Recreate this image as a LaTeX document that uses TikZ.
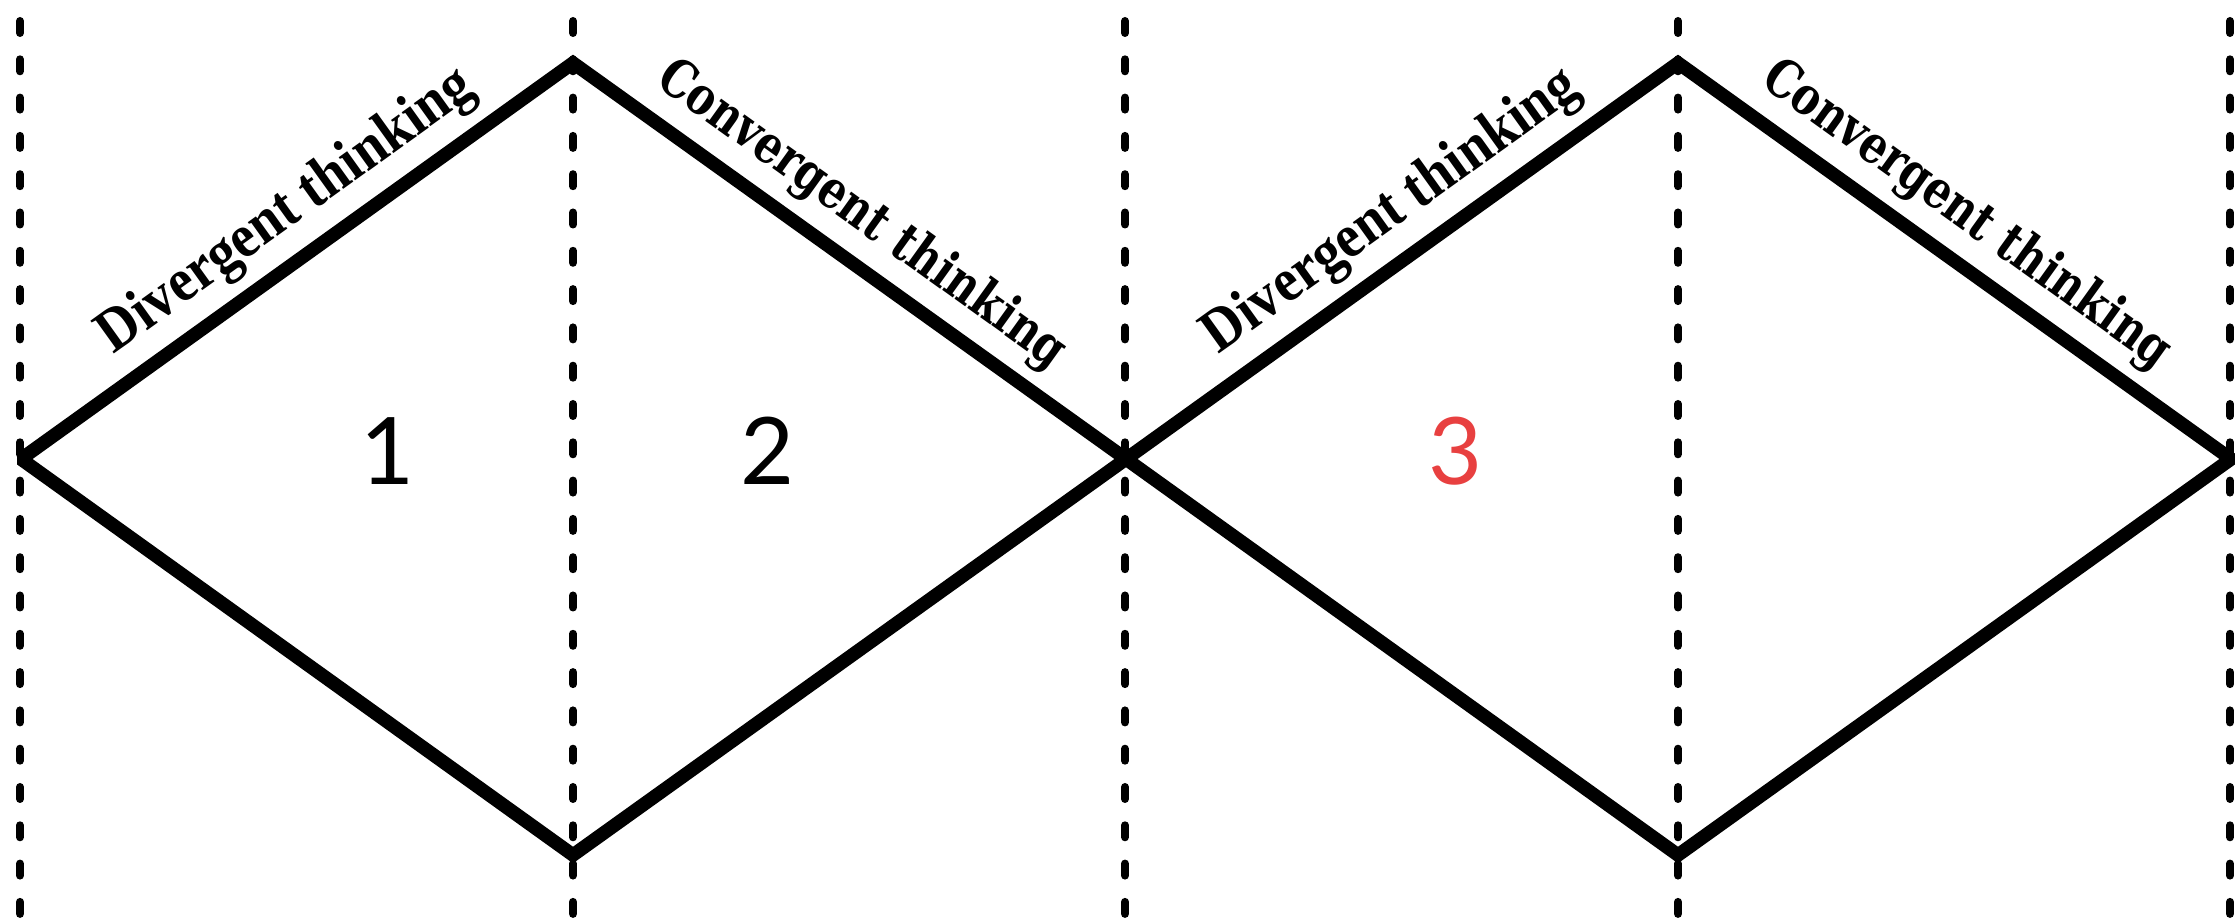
\documentclass[tikz,border=0pt]{standalone}
\usepackage{fontspec}
\usetikzlibrary{calc}
\newfontfamily\divfont{Liberation Serif}
\newfontfamily\convfont{DejaVu Serif}
\newfontfamily\numfont{Lato}
\definecolor{numred}{RGB}{232,64,64}
\tikzset{
  guide/.style={line width=0.08cm, dash pattern=on 0.12cm off 0.263cm, line cap=round},
  phase/.style={line width=0.135cm, line join=miter, miter limit=1.5},
  divlabel/.style={font=\divfont\bfseries\fontsize{17.5}{20}\selectfont, anchor=base, inner sep=0pt, rotate=35.66, xscale=0.9, transform shape},
  convlabel/.style={font=\convfont\bfseries\fontsize{15}{17}\selectfont, anchor=base, inner sep=0pt, rotate=-35.66, xscale=0.8, transform shape},
  num/.style={font=\numfont\fontsize{26.5}{30}\selectfont, inner sep=0pt}
}
\begin{document}
\begin{tikzpicture}
\useasboundingbox (0,0) rectangle (22.37,9.23);
% dashed guides
\foreach \x [count=\i] in {0.20,5.73,11.25,16.78,22.30} {
  \coordinate (gt\i) at (\x,9.02);
  \coordinate (gb\i) at (\x,0);
  \draw[guide] (gt\i) -- (gb\i);
}
% vertices
\coordinate (L)  at (0.21,4.64);
\coordinate (T1) at (5.73,8.60);
\coordinate (B1) at (5.73,0.68);
\coordinate (C)  at (11.26,4.64);
\coordinate (T2) at (16.78,8.60);
\coordinate (B2) at (16.78,0.68);
\coordinate (R)  at (22.31,4.64);
% diamonds
\draw[phase] (L) -- (T1) -- (C) -- (B1) -- cycle;
\draw[phase] (C) -- (T2) -- (R) -- (B2) -- cycle;
% label anchors
\coordinate (d1) at ($(L)!0.53!(T1)$);
\coordinate (c1) at ($(T1)!0.475!(C)$);
\coordinate (d2) at ($(C)!0.53!(T2)$);
\coordinate (c2) at ($(T2)!0.475!(R)$);
\node[divlabel]  (dl1) at ($(d1)!0.31cm!90:(T1)$) {Divergent thinking};
\node[convlabel] (cl1) at ($(c1)!0.30cm!90:(C)$)  {Convergent thinking};
\node[divlabel]  (dl2) at ($(d2)!0.31cm!90:(T2)$) {Divergent thinking};
\node[convlabel] (cl2) at ($(c2)!0.30cm!90:(R)$)  {Convergent thinking};
% numbers
\node[num] (n1) at (3.875,4.72) {1};
\node[num] (n2) at (7.68,4.72) {2};
\node[num, text=numred] (n3) at (14.55,4.72) {3};
\end{tikzpicture}
\end{document}
